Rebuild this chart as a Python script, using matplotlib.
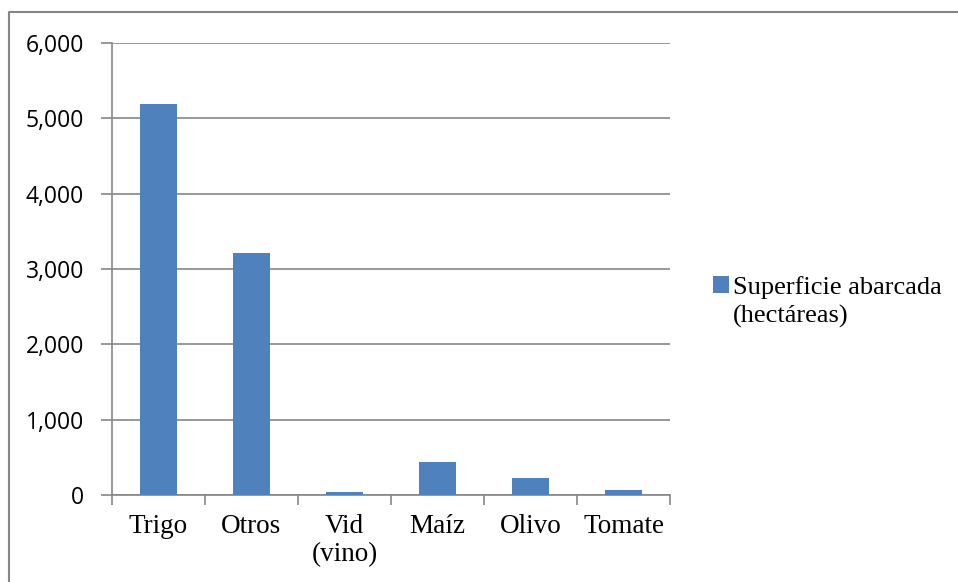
import numpy as np
import matplotlib
matplotlib.use("Agg")
import matplotlib.pyplot as plt
from matplotlib.lines import Line2D
from matplotlib.ticker import FuncFormatter, FixedLocator

# Data
categories = ["Trigo", "Otros", "Vid\n(vino)", "Maíz", "Olivo", "Tomate"]
superficie = [5190, 3210, 40, 435, 230, 65]
y_ticks = [0, 1000, 2000, 3000, 4000, 5000, 6000]
legend_lines = ["Superficie abarcada", "(hectáreas)"]

W, H = 958, 582
DPI = 100
BAR_COLOR = "#4F81BD"
GRID_COLOR = "#868686"
SERIF = "Liberation Serif"
SANS = "Open Sans"

fig = plt.figure(figsize=(W / DPI, H / DPI), dpi=DPI)
fig.patch.set_facecolor("white")

# plot area in pixel positions from the reference
left, right, top, bottom = 112, 670, 43, 495
ax = fig.add_axes([left / W, (H - bottom) / H, (right - left) / W, (bottom - top) / H])

x = np.arange(len(categories))
bars = ax.bar(x, superficie, width=0.4, color=BAR_COLOR, label=legend_lines[0], zorder=3)

ax.set_xlim(-0.5, len(categories) - 0.5)
ax.set_ylim(0, 6000)

# y axis
ax.set_yticks(y_ticks)
ax.yaxis.set_major_formatter(FuncFormatter(lambda v, p: f"{int(v):,}"))
ax.tick_params(axis="y", length=8, width=1.2, color=GRID_COLOR, pad=12,
               labelsize=16.5, labelcolor="black")
for lbl in ax.get_yticklabels():
    lbl.set_fontfamily(SANS)
ax.grid(axis="y", color=GRID_COLOR, linewidth=1.2, zorder=0)

# x axis: labels at centres, tick marks at the category boundaries
ax.set_xticks(x)
ax.set_xticklabels(categories, fontfamily=SERIF, fontsize=19.5, linespacing=1.15)
ax.tick_params(axis="x", which="major", length=0, pad=14)
ax.xaxis.set_minor_locator(FixedLocator(np.arange(len(categories) + 1) - 0.5))
ax.tick_params(axis="x", which="minor", length=7, width=1.2, color=GRID_COLOR)

for side in ["top", "right"]:
    ax.spines[side].set_visible(False)
for side in ["left", "bottom"]:
    ax.spines[side].set_color(GRID_COLOR)
    ax.spines[side].set_linewidth(1.2)

# legend
leg = fig.legend(loc="upper left", bbox_to_anchor=(713 / W, (H - 276) / H),
                 frameon=False, prop={"family": SERIF, "size": 19},
                 handlelength=0.6, handleheight=0.6, handletextpad=0.15,
                 borderpad=0, borderaxespad=0)

fig.canvas.draw()
tb = leg.get_texts()[0].get_window_extent()
fig.text(tb.x0 / W, (tb.y0 - 29) / H, legend_lines[1], fontfamily=SERIF,
         fontsize=19, va="bottom", ha="left")

# outer chart border (left and top edges visible in the reference)
fig.add_artist(Line2D([9 / W, 9 / W, 1.0], [0.0, (H - 12) / H, (H - 12) / H],
                      transform=fig.transFigure, color=GRID_COLOR, linewidth=1.5))

fig.savefig("out.png", dpi=DPI, facecolor="white")
